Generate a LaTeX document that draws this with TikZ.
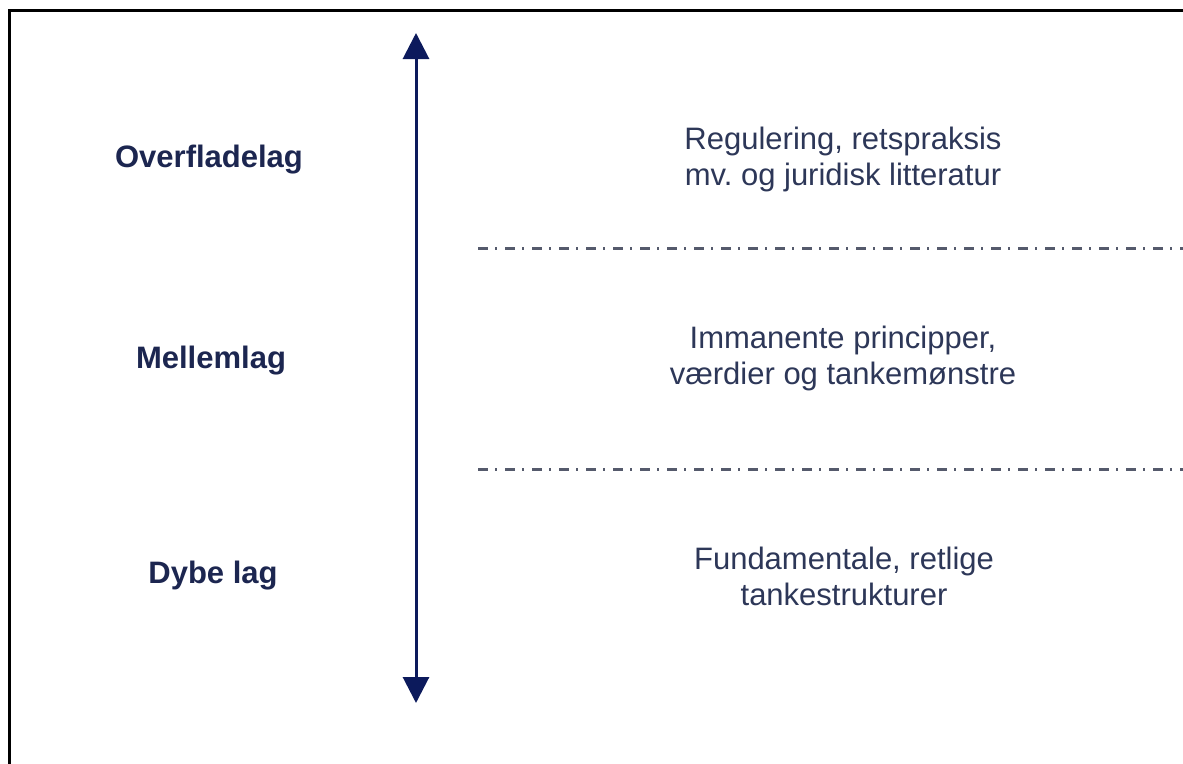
\documentclass[tikz,border=0pt]{standalone}
\usepackage{fontspec}
\setmainfont{Liberation Sans}
\usetikzlibrary{arrows.meta}
\frenchspacing
\definecolor{navy}{RGB}{12,26,92}
\definecolor{labelc}{RGB}{28,38,80}
\definecolor{textc}{RGB}{45,55,88}
\definecolor{sepc}{RGB}{85,90,108}
\tikzset{
  layer/.style={font=\fontsize{31}{35.5}\selectfont\bfseries, text=labelc, inner sep=0pt},
  desc/.style={font=\fontsize{31}{36}\selectfont, text=textc, align=center, inner sep=0pt},
  sep/.style={draw=sepc, line width=3pt, dash pattern=on 10pt off 7pt on 2pt off 8pt},
  axis/.style={draw=navy, line width=3pt, {Triangle[width=26pt,length=26pt]}-{Triangle[width=26pt,length=26pt]}}
}
\begin{document}
\begin{tikzpicture}[x=1pt,y=-1pt]
\useasboundingbox (0,0) rectangle (1183,763);
\fill[white] (0,0) rectangle (1183,763);
\draw[line width=3pt] (9.5,10.5) rectangle (1200,780);
\coordinate (top) at (416,33);
\coordinate (bot) at (416,703);
\draw[axis] (top) -- (bot);
\coordinate (s1a) at (478,248);
\coordinate (s1b) at (1195,248);
\coordinate (s2a) at (478,469);
\coordinate (s2b) at (1195,469);
\draw[sep] (s1a) -- (s1b);
\draw[sep] (s2a) -- (s2b);
\node[layer, anchor=base] (over) at (209,167) {Overfladelag};
\node[layer, anchor=base] (mell) at (211,368) {Mellemlag};
\node[layer, anchor=base] (dybe) at (213,583) {Dybe lag};
\node[desc, anchor=base] (d1) at (843,185) {Regulering, retspraksis\\mv. og juridisk litteratur};
\node[desc, anchor=base] (d2) at (843,384) {Immanente principper,\\værdier og tankemønstre};
\node[desc, anchor=base] (d3) at (844,605) {Fundamentale, retlige\\tankestrukturer};
\end{tikzpicture}
\end{document}
